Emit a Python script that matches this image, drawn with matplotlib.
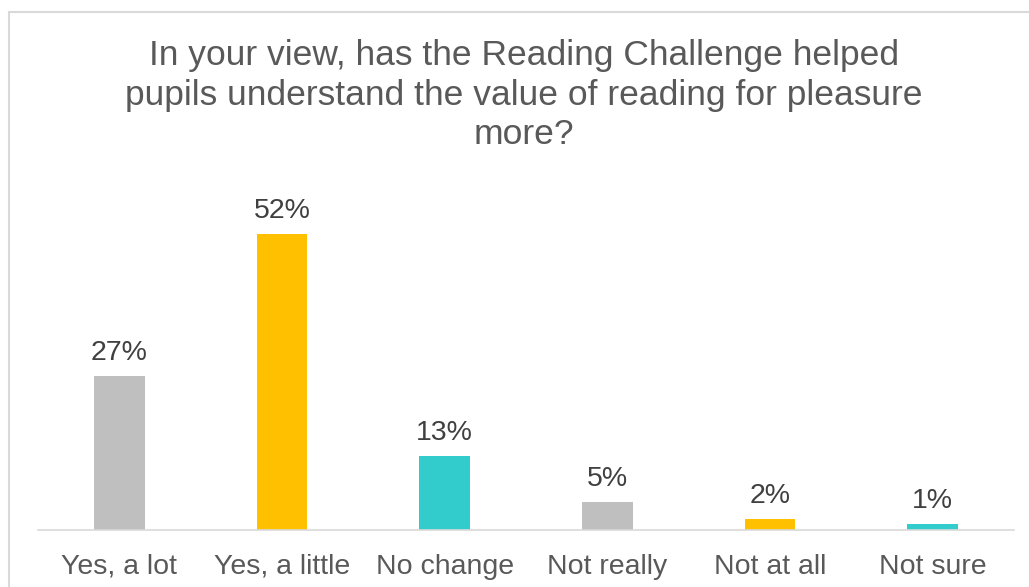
import matplotlib
matplotlib.use("Agg")
import matplotlib.pyplot as plt
from matplotlib.patches import Rectangle

categories = ["Yes, a lot", "Yes, a little", "No change", "Not really", "Not at all", "Not sure"]
values = [27, 52, 13, 5, 2, 1]
labels = ["27%", "52%", "13%", "5%", "2%", "1%"]
colors = ["#BFBFBF", "#FFC000", "#33CCCC", "#BFBFBF", "#FFC000", "#33CCCC"]
title = "In your view, has the Reading Challenge helped\npupils understand the value of reading for pleasure\nmore?"

plt.rcParams['font.family'] = ['Liberation Sans', 'DejaVu Sans']
W, H = 1029, 587
fig = plt.figure(figsize=(W / 100, H / 100), dpi=100)

# border
fig.patches.append(Rectangle((9 / W, -0.05), 1.2, 1 - 12 / H + 0.05, transform=fig.transFigure,
                             fill=False, edgecolor="#D9D9D9", linewidth=1.5))

ax_left, ax_right = 38 / W, 1014 / W
ax_bottom = 1 - 530 / H
ax_top = 1 - 190 / H
ax = fig.add_axes([ax_left, ax_bottom, ax_right - ax_left, ax_top - ax_bottom])
x = list(range(len(categories)))
bars = ax.bar(x, values, width=51 / 162.7, color=colors)
ax.set_xlim(-0.5, len(categories) - 0.5)
ax.set_ylim(0, 52 * 340 / 296)
for xi, v, lab in zip(x, values, labels):
    ax.text(xi, v + 1.75, lab, ha="center", va="bottom", fontsize=20.5, color="#404040")
ax.set_xticks(x)
ax.set_xticklabels(categories, fontsize=20.5, color="#595959")
ax.tick_params(axis="x", length=0, pad=17)
ax.set_yticks([])
for s in ["top", "right", "left"]:
    ax.spines[s].set_visible(False)
ax.spines["bottom"].set_color("#D9D9D9")
ax.spines["bottom"].set_linewidth(1.2)

fig.text(524 / W, 1 - 95 / H, title, ha="center", va="center", fontsize=25.5,
         color="#595959", linespacing=1.26)

fig.savefig("out.png", dpi=100)
